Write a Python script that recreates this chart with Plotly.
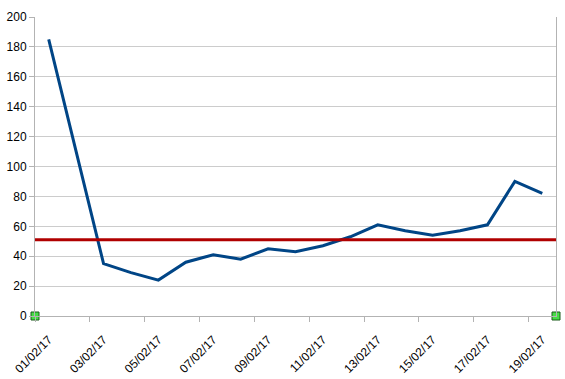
import plotly.graph_objects as go

dates = ["01/02/17", "02/02/17", "03/02/17", "04/02/17", "05/02/17", "06/02/17",
         "07/02/17", "08/02/17", "09/02/17", "10/02/17", "11/02/17", "12/02/17",
         "13/02/17", "14/02/17", "15/02/17", "16/02/17", "17/02/17", "18/02/17",
         "19/02/17"]
values = [185, 110, 35, 29, 24, 36, 41, 38, 45, 43, 47, 53, 61, 57, 54, 57, 61, 90, 82]
threshold = 51
y_ticks = [0, 20, 40, 60, 80, 100, 120, 140, 160, 180, 200]

idx = list(range(len(dates)))
label_pos = idx[::2]
label_text = dates[::2]
boundary_pos = [i - 0.5 for i in idx[::2]]

fig = go.Figure()
fig.add_trace(go.Scatter(x=idx, y=values, mode="lines",
                         line=dict(color="#004586", width=3), showlegend=False,
                         hoverinfo="skip"))
fig.add_shape(type="line", xref="paper", x0=0, x1=1, yref="y", y0=threshold, y1=threshold,
              line=dict(color="#b00000", width=3))
fig.add_trace(go.Scatter(x=[-0.5, len(dates) - 0.5], y=[0, 0], mode="markers",
                         marker=dict(symbol="square", size=8, color="#44dd44",
                                     line=dict(color="#1a5a1a", width=1)),
                         cliponaxis=False, showlegend=False, hoverinfo="skip"))

fig.update_layout(
    width=565, height=379,
    margin=dict(l=35, r=9, t=17, b=63),
    paper_bgcolor="white", plot_bgcolor="white",
    font=dict(family="Liberation Sans, Arial, sans-serif", size=12, color="black"),
    xaxis=dict(range=[-0.5, len(dates) - 0.5], tickmode="array", tickvals=label_pos,
               ticktext=label_text, tickangle=-45, showgrid=False, zeroline=False,
               showline=True, linecolor="#b3b3b3", linewidth=1, automargin=False,
               ticks="outside", ticklen=11, tickcolor="rgba(0,0,0,0)",
               minor=dict(tickmode="array", tickvals=boundary_pos, ticks="outside",
                          ticklen=5, tickcolor="#b3b3b3", showgrid=False)),
    yaxis=dict(range=[0, 200], tickmode="array", tickvals=y_ticks, automargin=False,
               showgrid=True, gridcolor="#cccccc", gridwidth=1, zeroline=False,
               showline=True, mirror=True, linecolor="#b3b3b3", linewidth=1,
               ticks="outside", ticklen=5, tickcolor="#b3b3b3"),
)
fig.write_html("out.html")
